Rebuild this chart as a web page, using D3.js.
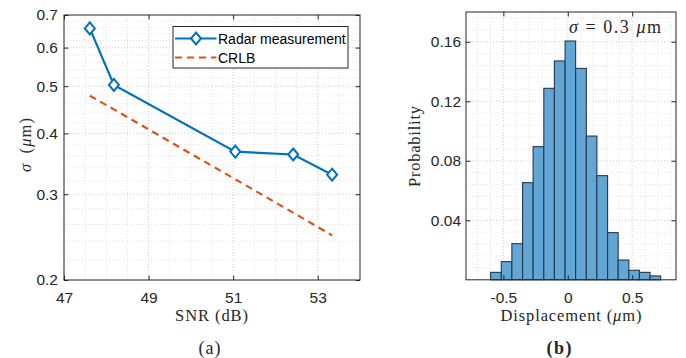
<!DOCTYPE html>
<html>
<head>
<meta charset="utf-8">
<script src="https://d3js.org/d3.v7.min.js"></script>
<style>
  body { margin: 0; background: #fff; }
  .tick text { font-family: 'Liberation Sans', Arial, Helvetica, sans-serif; font-size: 15.5px; fill: #262626; }
  .serif { font-family: 'Liberation Serif', 'Times New Roman', serif; fill: #262626; }
</style>
</head>
<body>
<script>
// ---- data: panel (a)
const snr = [47.61, 48.18, 51.05, 52.42, 53.34];
const radar = [0.657, 0.503, 0.367, 0.362, 0.329];
const crlb = [0.478, 0.448, 0.322, 0.275, 0.247];
const snrTicks = [47, 49, 51, 53];
const sigmaTicks = [0.2, 0.3, 0.4, 0.5, 0.6, 0.7];

// ---- data: panel (b)
const binEdges = [-0.599, -0.516, -0.434, -0.351, -0.269, -0.186, -0.104, -0.021, 0.061,
  0.144, 0.226, 0.309, 0.391, 0.474, 0.556, 0.639, 0.721];
const prob = [0.0050, 0.0122, 0.0243, 0.0653, 0.0895, 0.1287, 0.1471, 0.1605, 0.1421,
  0.0966, 0.0700, 0.0317, 0.0133, 0.0064, 0.0050, 0.0026];
const dispTicks = [-0.5, 0, 0.5];
const probTicks = [0.04, 0.08, 0.12, 0.16];

const W = 686, H = 358;
const axisColor = '#262626';
const svg = d3.select('body').append('svg').attr('width', W).attr('height', H);

function grid(g, x, y, xv, yv, x0, x1, y0, y1, color) {
  g.selectAll(null).data(xv).enter().append('line')
    .attr('x1', d => x(d)).attr('x2', d => x(d)).attr('y1', y0).attr('y2', y1)
    .attr('stroke', color).attr('stroke-dasharray', '1,2');
  g.selectAll(null).data(yv).enter().append('line')
    .attr('y1', d => y(d)).attr('y2', d => y(d)).attr('x1', x0).attr('x2', x1)
    .attr('stroke', color).attr('stroke-dasharray', '1,2');
}

function frame(g, x, y, xt, yt, fmtX, fmtY, L, R, T, B, padY) {
  const tl = 4.5;
  g.append('g').attr('transform', `translate(0,${B})`)
    .call(d3.axisBottom(x).tickValues(xt).tickFormat(fmtX).tickSizeInner(-tl).tickSizeOuter(0).tickPadding(12))
    .call(a => a.select('.domain').remove());
  g.append('g').attr('transform', `translate(0,${T})`)
    .call(d3.axisTop(x).tickValues(xt).tickFormat('').tickSizeInner(-tl).tickSizeOuter(0))
    .call(a => a.select('.domain').remove());
  g.append('g').attr('transform', `translate(${L},0)`)
    .call(d3.axisLeft(y).tickValues(yt).tickFormat(fmtY).tickSizeInner(-tl).tickSizeOuter(0).tickPadding(padY))
    .call(a => a.select('.domain').remove());
  g.append('g').attr('transform', `translate(${R},0)`)
    .call(d3.axisRight(y).tickValues(yt).tickFormat('').tickSizeInner(-tl).tickSizeOuter(0))
    .call(a => a.select('.domain').remove());
  g.selectAll('.tick line').attr('stroke', axisColor);
  g.append('rect').attr('x', L).attr('y', T).attr('width', R - L).attr('height', B - T)
    .attr('fill', 'none').attr('stroke', axisColor).attr('stroke-width', 1);
}

function label(g, x, y, parts, len, rot) {
  const t = g.append('text').attr('class', 'serif').attr('font-size', 16.5)
    .attr('text-anchor', 'middle').attr('textLength', len).attr('lengthAdjust', 'spacing')
    .attr('transform', `translate(${x},${y})` + (rot ? ' rotate(-90)' : ''));
  parts.forEach(p => t.append('tspan').attr('font-style', p[1] ? 'italic' : null).text(p[0]));
  return t;
}

// ================= panel (a)
const A = { L: 64, R: 360, T: 15, B: 280 };
const xa = d3.scaleLinear().domain([47, 54]).range([A.L, A.R]);
const ya = d3.scaleLog().domain([0.2, 0.7]).range([A.B, A.T]);
const ga = svg.append('g');

const xaMinor = d3.range(47.5, 54, 0.5).filter(v => !snrTicks.includes(v));
const yaMinor = d3.range(0.22, 0.7, 0.02).filter(v => Math.abs(v * 10 - Math.round(v * 10)) > 1e-6);
grid(ga, xa, ya, xaMinor, yaMinor, A.L, A.R, A.T, A.B, '#e2e2e2');
grid(ga, xa, ya, snrTicks, sigmaTicks.slice(1, -1), A.L, A.R, A.T, A.B, '#cfcfcf');

const lineA = d3.line().x((d, i) => xa(snr[i])).y(d => ya(d));
ga.append('path').datum(crlb).attr('d', lineA).attr('fill', 'none')
  .attr('stroke', '#D95319').attr('stroke-width', 2.2).attr('stroke-dasharray', '7,5');
ga.append('path').datum(radar).attr('d', lineA).attr('fill', 'none')
  .attr('stroke', '#0072BD').attr('stroke-width', 2.2);

const diamond = 'M0,-6L5,0L0,6L-5,0Z';
ga.selectAll('.mk').data(radar).enter().append('path').attr('class', 'mk')
  .attr('d', diamond)
  .attr('transform', (d, i) => `translate(${xa(snr[i])},${ya(d)})`)
  .attr('fill', '#fff').attr('stroke', '#0072BD').attr('stroke-width', 2);

frame(ga, xa, ya, snrTicks, sigmaTicks, d3.format('d'), d3.format('.1f'), A.L, A.R, A.T, A.B, 6);

// legend
const lg = ga.append('g');
lg.append('rect').attr('x', 173).attr('y', 26.5).attr('width', 175).attr('height', 41.5)
  .attr('fill', '#fff').attr('stroke', axisColor).attr('stroke-width', 1);
lg.append('line').attr('x1', 175).attr('x2', 216.5).attr('y1', 38.5).attr('y2', 38.5)
  .attr('stroke', '#0072BD').attr('stroke-width', 2.2);
lg.append('path').attr('d', diamond).attr('transform', 'translate(196,38.5)')
  .attr('fill', '#fff').attr('stroke', '#0072BD').attr('stroke-width', 2);
lg.append('line').attr('x1', 175).attr('x2', 216.5).attr('y1', 57.5).attr('y2', 57.5)
  .attr('stroke', '#D95319').attr('stroke-width', 2.2).attr('stroke-dasharray', '7,5');
lg.selectAll('text').data(['Radar measurement', 'CRLB']).enter().append('text')
  .attr('x', 218).attr('y', (d, i) => 43.5 + i * 19)
  .attr('font-family', "'Liberation Sans', Arial, sans-serif").attr('font-size', 14)
  .attr('fill', '#000').text(d => d);

// labels (a)
label(ga, 211.5, 321, [['SNR (dB)']], 73, false);
label(ga, 31, 145, [['σ', true], ['\u2002('], ['μ', true], ['m)']], 54, true);
label(ga, 209.5, 354, [['(a)']], 22, false).attr('font-size', 18).attr('fill', '#000');

// ================= panel (b)
const Bp = { L: 466, R: 676, T: 12, B: 279.8 };
const xb = d3.scaleLinear().domain([-0.79, 0.84]).range([Bp.L, Bp.R]);
const yb = d3.scaleLinear().domain([0, 0.18]).range([Bp.B, Bp.T]);
const gb = svg.append('g');

const xbMinor = d3.range(-0.7, 0.84, 0.1).filter(v => Math.abs(v * 2 - Math.round(v * 2)) > 1e-6);
const ybMinor = d3.range(0.008, 0.18, 0.008).filter(v => Math.abs(v / 0.04 - Math.round(v / 0.04)) > 1e-6);
grid(gb, xb, yb, xbMinor, ybMinor, Bp.L, Bp.R, Bp.T, Bp.B, '#e2e2e2');
grid(gb, xb, yb, dispTicks, probTicks, Bp.L, Bp.R, Bp.T, Bp.B, '#cfcfcf');

gb.selectAll('.bar').data(prob).enter().append('rect').attr('class', 'bar')
  .attr('x', (d, i) => xb(binEdges[i]))
  .attr('width', (d, i) => xb(binEdges[i + 1]) - xb(binEdges[i]))
  .attr('y', d => yb(d))
  .attr('height', d => yb(0) - yb(d))
  .attr('fill', '#62A6D6').attr('stroke', '#25394a').attr('stroke-width', 1.1);

frame(gb, xb, yb, dispTicks, probTicks, d => (d < 0 ? '-' : '') + d3.format('.1~f')(Math.abs(d)),
  d3.format('.2f'), Bp.L, Bp.R, Bp.T, Bp.B, 5);

const ann = gb.append('text').attr('class', 'serif').attr('x', 569).attr('y', 33)
  .attr('font-size', 18).attr('fill', '#000').attr('textLength', 92).attr('lengthAdjust', 'spacing');
ann.append('tspan').attr('font-style', 'italic').text('σ');
ann.append('tspan').text(' = 0.3 ');
ann.append('tspan').attr('font-style', 'italic').text('μ');
ann.append('tspan').text('m');

label(gb, 571, 321, [['Displacement ('], ['μ', true], ['m)']], 141, false);
label(gb, 420, 146.5, [['Probability']], 81, true);
label(gb, 559, 354, [['(b)']], 25, false).attr('font-size', 18).attr('font-weight', 'bold').attr('fill', '#000');
</script>
</body>
</html>
